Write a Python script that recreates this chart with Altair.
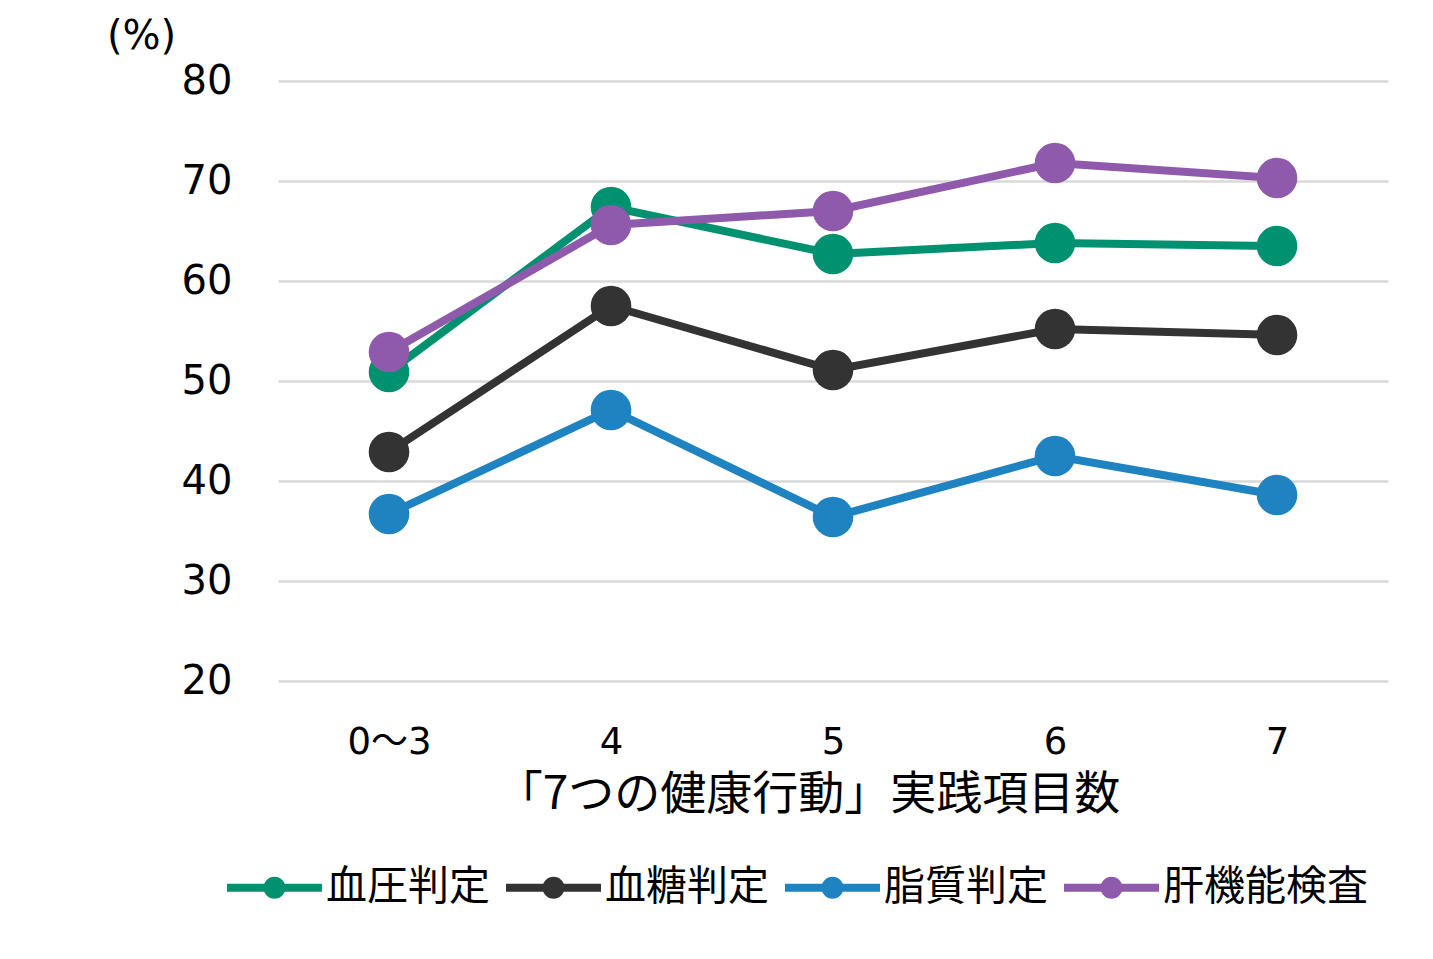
import altair as alt
import pandas as pd

categories = ["0〜3", "4", "5", "6", "7"]
series = ["血圧判定", "血糖判定", "脂質判定", "肝機能検査"]
colors = ["#009270", "#333333", "#1f83c1", "#8f5aab"]

bp = [50.9, 67.4, 62.7, 63.8, 63.5]
glucose = [42.9, 57.5, 51.1, 55.2, 54.6]
lipid = [36.7, 47.1, 36.4, 42.5, 38.6]
liver = [52.9, 65.6, 67.0, 71.8, 70.3]

rows = []
for name, vals in zip(series, [bp, glucose, lipid, liver]):
    for c, v in zip(categories, vals):
        rows.append({"項目数": c, "系列": name, "値": v})
df = pd.DataFrame(rows)

JP = "Noto Sans CJK JP"
NUM = "DejaVu Sans, Noto Sans CJK JP"

# stroked legend symbol: horizontal line plus two concentric rings forming a disc
sym_path = ("M -1 0 L 1 0 "
            "M -0.084 0 A 0.084 0.084 0 1 1 0.084 0 A 0.084 0.084 0 1 1 -0.084 0 "
            "M -0.147 0 A 0.147 0.147 0 1 1 0.147 0 A 0.147 0.147 0 1 1 -0.147 0")

color_scale = alt.Scale(domain=series, range=colors)
legend = alt.Legend(
    title=None, orient="none", direction="horizontal",
    legendX=-55, legendY=755, padding=0,
    symbolType=sym_path, symbolSize=9025, symbolStrokeWidth=8,
    symbolOpacity=1,
    labelFont=JP, labelFontSize=41, labelColor="#000000", labelLimit=0,
    labelOffset=0, columnPadding=0,
)

x = alt.X("項目数:N", sort=categories, scale=alt.Scale(padding=0.5),
          axis=alt.Axis(title="「7つの健康行動」実践項目数", labelAngle=0,
                        labelFont=NUM, labelFontSize=37, labelColor="#000000",
                        labelPadding=43, ticks=False, domain=False, grid=False,
                        titleFont=JP, titleFontSize=46, titleFontWeight="normal",
                        titleColor="#000000", titleX=530, titleY=91,
                        titleBaseline="top"))
y = alt.Y("値:Q", scale=alt.Scale(domain=[20, 80], nice=False, zero=False),
          axis=alt.Axis(title="(%)", values=[20, 30, 40, 50, 60, 70, 80],
                        labelFont=NUM, labelFontSize=40, labelColor="#000000",
                        labelPadding=46, ticks=False, domain=False,
                        grid=True, gridColor="#d9d9d9", gridWidth=2.5,
                        titleFont=NUM, titleFontSize=40, titleFontWeight="normal",
                        titleColor="#000000", titleAngle=0, titleX=-137,
                        titleY=-45, titleAlign="center", titleBaseline="middle"))
color = alt.Color("系列:N", scale=color_scale, legend=legend)

base = alt.Chart(df)
lines = base.mark_line(strokeWidth=8).encode(x=x, y=y, color=color, detail="系列:N")
points = base.mark_point(filled=True, size=1650, opacity=1).encode(x=x, y=y, color=color)

chart = alt.layer(lines, points).properties(
    width=1110, height=600,
    padding={"left": 270, "top": 73, "right": 37, "bottom": 270},
    autosize=alt.AutoSizeParams(type="none"),
    background="#ffffff",
).configure_view(stroke=None)

chart.save("out.html", embed_options={"renderer": "svg", "actions": False})
